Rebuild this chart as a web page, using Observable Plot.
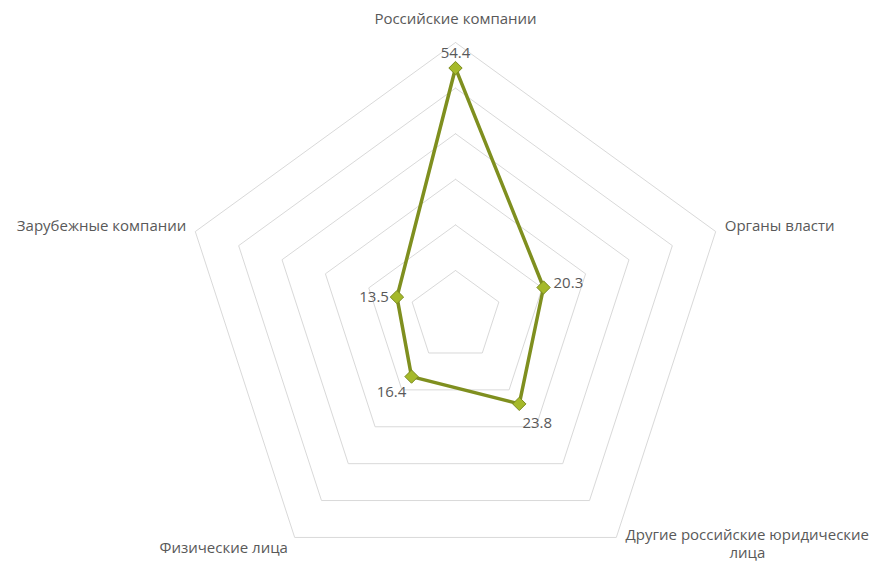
<!DOCTYPE html>
<html><head><meta charset="utf-8">
<script src="https://cdn.jsdelivr.net/npm/d3@7"></script>
<script src="https://cdn.jsdelivr.net/npm/@observablehq/plot@0.6"></script>
<style>body{margin:0;background:#fff}</style>
</head><body><div id="chart"></div>
<script>
const categories = ["Российские компании","Органы власти","Другие российские юридические\nлица","Физические лица","Зарубежные компании"];
const values = [54.4, 20.3, 23.8, 16.4, 13.5];
const gridLevels = [10, 20, 30, 40, 50, 60];
const maxValue = 60;

const W = 874, H = 562, cx = 455, cy = 315.6, R = 273.6;
const k = R / maxValue;
const n = categories.length;
const ang = i => i * 2 * Math.PI / n;
const px = (v, i) => v * Math.sin(ang(i));
const py = (v, i) => v * Math.cos(ang(i));

const rings = gridLevels.flatMap(l => d3.range(n + 1).map(j => ({l, x: px(l, j % n), y: py(l, j % n)})));
const pts = values.map((v, i) => ({i, v, x: px(v, i), y: py(v, i)}));
const closed = [...pts, pts[0]];

const labOff = [{dx:0,dy:-24,a:"middle"},{dx:9,dy:-6,a:"start"},{dx:131,dy:6,a:"middle"},{dx:-71,dy:10,a:"middle"},{dx:-9,dy:-6,a:"end"}];
const valOff = [{dx:0,dy:-15,a:"middle"},{dx:10,dy:-4,a:"start"},{dx:18,dy:19,a:"middle"},{dx:-20,dy:16,a:"middle"},{dx:-8,dy:0,a:"end"}];
const labs = categories.map((c, i) => ({c, i, x: px(maxValue, i), y: py(maxValue, i)}));

const font = "'Open Sans', sans-serif";
const marks = [
  Plot.line(rings, {x: "x", y: "y", z: "l", stroke: "#d9d9d9", strokeWidth: 1}),
  Plot.line(closed, {x: "x", y: "y", stroke: "#7f8f1f", strokeWidth: 3.5, strokeLinejoin: "round"}),
  Plot.dot(pts, {x: "x", y: "y", symbol: "diamond2", r: 6, fill: "#a5b92a", stroke: "#7b8b1e", strokeWidth: 1})
];
labs.forEach((d, i) => marks.push(Plot.text([d], {x: "x", y: "y", text: "c", dx: labOff[i].dx, dy: labOff[i].dy, textAnchor: labOff[i].a, fill: "#595959", fontSize: 15, lineHeight: 1.22})));
pts.forEach((d, i) => marks.push(Plot.text([d], {x: "x", y: "y", text: d => d.v.toFixed(1), dx: valOff[i].dx, dy: valOff[i].dy, textAnchor: valOff[i].a, fill: "#595959", fontSize: 15})));

const chart = Plot.plot({
  width: W, height: H, margin: 0,
  x: {domain: [-cx / k, (W - cx) / k], range: [0, W], axis: null},
  y: {domain: [-(H - cy) / k, cy / k], range: [H, 0], axis: null},
  style: {fontFamily: font, background: "#fff"},
  marks
});
document.getElementById("chart").appendChild(chart);
</script></body></html>
